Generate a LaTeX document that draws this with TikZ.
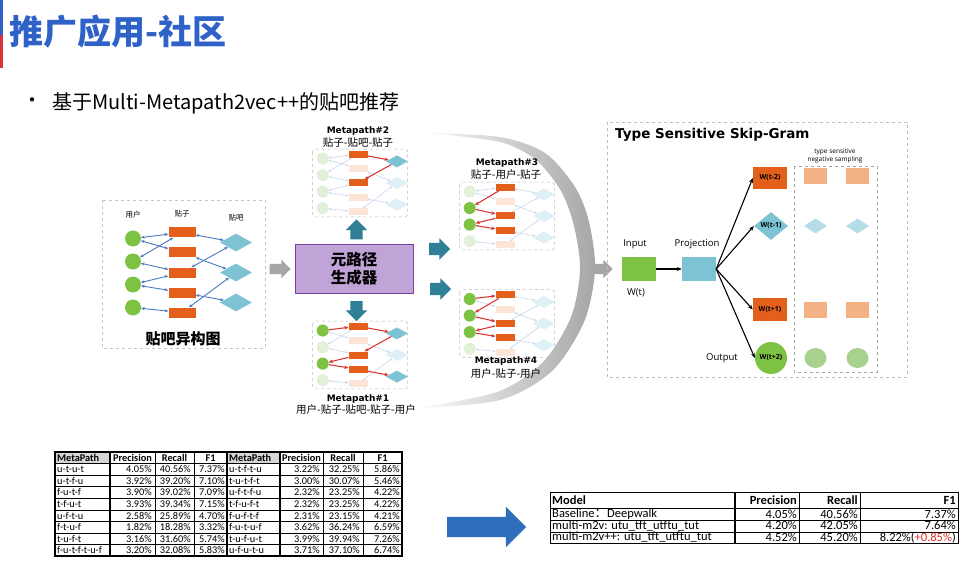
\documentclass[tikz,border=0pt]{standalone}
\usepackage{fontspec}
\setmainfont{Noto Sans CJK SC}
\newfontfamily\verd{DejaVu Sans}
\newfontfamily\calib{Carlito}
\newfontfamily\segoe{Open Sans}
\usetikzlibrary{positioning,arrows.meta,shapes.geometric,shapes.arrows}
\definecolor{titleblue}{HTML}{2F62C8}
\definecolor{barred}{HTML}{D9343A}
\definecolor{usergreen}{HTML}{7DC242}
\definecolor{postorange}{HTML}{E2601C}
\definecolor{barcyan}{HTML}{7DC3D3}
\definecolor{linkblue}{HTML}{4A78C2}
\definecolor{userfade}{HTML}{E2F0D9}
\definecolor{postfade}{HTML}{FCE4D6}
\definecolor{barfade}{HTML}{DDF0F5}
\definecolor{linkfade}{HTML}{CBD7EA}
\definecolor{hlred}{HTML}{E0302A}
\definecolor{genfill}{HTML}{C0A4D8}
\definecolor{genborder}{HTML}{7A3FA5}
\definecolor{tealarr}{HTML}{2F7F96}
\definecolor{blkgray}{HTML}{A6A6A6}
\definecolor{arrowblue}{HTML}{2F6EBA}
\definecolor{negorange}{HTML}{F4B183}
\definecolor{negcyan}{HTML}{B4DDE8}
\definecolor{neggreen}{HTML}{A9D18E}
\definecolor{hdgray}{HTML}{D6D6D6}
\newcommand{\fsz}[1]{\fontsize{#1}{#1}\selectfont}

\tikzset{
  pics/postgraph/.style={code={
    \path[gbox] (-63,-47) rectangle (69,47);
    \foreach \i/\y in {1/-34,2/-11,3/12,4/35} \node[gu] (-c\i) at (-49,\y) {};
    \foreach \i/\y in {1/-40,2/-20,3/0,4/20,5/40} \node[gp] (-r\i) at (0,\y) {};
    \foreach \i/\y in {1/-30,2/0,3/30} \node[gb] (-b\i) at (54,\y) {};
    \foreach \a/\b in {c1/r1,c1/r2,c2/r1,c2/r3,c3/r3,c3/r4,c4/r5,r1/b1,r3/b1,r2/b2,r5/b2,r4/b3}
      \draw[gl] (-\a) -- (-\b);
  }}
}

\begin{document}
\begin{tikzpicture}[x=1pt, y=-1pt,
    gu/.style={circle, fill=usergreen, inner sep=0, minimum size=16pt},
    gp/.style={fill=postorange, inner sep=0, minimum width=27pt, minimum height=10pt},
    gb/.style={diamond, fill=barcyan, inner sep=0, minimum width=32pt, minimum height=18pt},
    gl/.style={{Stealth[length=3.5pt,width=3pt]}-{Stealth[length=3.5pt,width=3pt]}, draw=linkblue, line width=0.9pt},
    gbox/.style={},
    mini/.style={
      gu/.style={circle, fill=userfade, inner sep=0, minimum size=12pt},
      gp/.style={fill=postfade, inner sep=0, minimum width=19pt, minimum height=7pt},
      gb/.style={diamond, fill=barfade, inner sep=0, minimum width=22pt, minimum height=12pt},
      gl/.style={{Stealth[length=2.5pt,width=2.5pt]}-{Stealth[length=2.5pt,width=2.5pt]}, draw=linkfade, line width=0.6pt},
      gbox/.style={draw=gray!55, dashed, rounded corners=3pt, line width=0.6pt}},
    hu/.style={circle, fill=usergreen, inner sep=0, minimum size=12pt},
    hp/.style={fill=postorange, inner sep=0, minimum width=19pt, minimum height=7pt},
    hb/.style={diamond, fill=barcyan, inner sep=0, minimum width=22pt, minimum height=12pt},
    hl/.style={-{Stealth[length=4pt,width=3.5pt]}, draw=hlred, line width=1pt},
    mptitle/.style={font=\verd\bfseries\fsz{9}, inner sep=0},
    mpsub/.style={font=\fsz{10.5}, inner sep=0},
    blk/.style={single arrow, inner xsep=0pt, inner ysep=6pt, single arrow head extend=4.5pt},
    vblk/.style={single arrow, inner xsep=6pt, inner ysep=0pt, single arrow head extend=4.5pt},
    gen/.style={draw=genborder, fill=genfill, line width=1pt, minimum width=118pt, minimum height=48pt,
      align=center, font=\bfseries\fontsize{15.5}{18}\selectfont},
    sglab/.style={font=\segoe\fsz{9.5}, inner sep=0},
    sgtxt/.style={font=\segoe\bfseries\fsz{7}, inner sep=0},
    sgarr/.style={-{Stealth[length=5pt,width=4pt]}, line width=1.1pt},
    negpost/.style={fill=negorange, inner sep=0, minimum width=23pt, minimum height=16pt},
    negbar/.style={diamond, fill=negcyan, inner sep=0, minimum width=23pt, minimum height=15pt},
    neguser/.style={ellipse, fill=neggreen, inner sep=0, minimum width=22pt, minimum height=20pt},
    tline/.style={line width=0.4pt},
    tthick/.style={line width=1.3pt},
    tcell/.style={font=\calib\fsz{10.3}, inner sep=0},
    thead/.style={font=\calib\bfseries\fsz{10.3}, inner sep=0},
    rcell/.style={font=\calib\fsz{12.5}, inner sep=0},
    rhead/.style={font=\calib\bfseries\fsz{12.5}, inner sep=0}]
  \fill[white] (0,0) rectangle (971,561);
  \useasboundingbox (0,0) rectangle (971,561);
  % title
  \fill[titleblue] (0,0) rectangle (3,35);
  \fill[barred] (0,35) rectangle (3,68);
  \node[anchor=west, inner sep=0, text=titleblue, font=\bfseries\fsz{34}] (title) at (9,32) {推广应用-社区};
  \node[font=\fsz{20}, inner sep=0] (dot) at (32,103) {•};
  \node[anchor=west, font=\fsz{20}, inner sep=0] (subtitle) at (52,103) {基于Multi-Metapath2vec++的贴吧推荐};
  % sweeping arc
  \shade[left color=white, right color=gray!70]
    plot[smooth] coordinates {(412,409) (500,400) (552,371) (584,322) (595,270) (589,222) (575,187) (545,153) (500,137) (428,133)}
    -- plot[smooth] coordinates {(428,133) (500,142) (536,160) (561,191) (574,226) (580,270) (571,317) (543,362) (497,392) (412,409)} -- cycle;
  % heterogeneous graph
  \draw[gray!45, dashed, line width=0.6pt] (102,200) rectangle (265,348);
  \pic (big) at (182,272.5) {postgraph};
  \node[font=\fsz{7.5}, above=9pt of big-c1] (ulab) {用户};
  \node[font=\fsz{7.5}, above=7pt of big-r1] (plab) {贴子};
  \node[font=\fsz{7.5}, above=9pt of big-b1] (blab) {贴吧};
  \node[font=\bfseries\fsz{15}, inner sep=0] (glab) at (183,339) {贴吧异构图};
  \node[blk, fill=blkgray, minimum height=21pt, inner ysep=5pt, single arrow head extend=4pt] (a0) at (277.5,269) {};
  % metapath generator
  \node[gen] (gen) at (354,269) {元路径\\生成器};
  \node[vblk, fill=tealarr, minimum height=20pt, shape border rotate=90] (aup) at (356.5,232.5) {};
  \node[vblk, fill=tealarr, minimum height=20pt, shape border rotate=270] (adn) at (356.5,308) {};
  \node[blk, fill=tealarr, minimum height=21pt, shape border rotate=25] (aur) at (436.5,249) {};
  \node[blk, fill=tealarr, minimum height=21pt, shape border rotate=-22] (adr) at (437.5,289) {};
  % metapath samples
  \begin{scope}[mini]
    \pic[scale=0.72] (mp2) at (358,183) {postgraph};
    \pic[scale=0.72] (mp1) at (358,355) {postgraph};
    \pic[scale=0.72] (mp3) at (505,216) {postgraph};
    \pic[scale=0.72] (mp4) at (505,323.5) {postgraph};
  \end{scope}
  \foreach \n/\s in {r1/hp,r3/hp,b1/hb} \node[\s] (h2\n) at (mp2-\n) {};
  \foreach \a/\b in {r1/b1,b1/r3} \draw[hl] (h2\a) -- (h2\b);
  \foreach \n/\s in {c1/hu,c3/hu,r1/hp,r3/hp,r4/hp,b1/hb,b3/hb} \node[\s] (h1\n) at (mp1-\n) {};
  \foreach \a/\b in {c1/r1,r1/b1,b1/r3,r3/c3,c3/r4,r4/b3} \draw[hl] (h1\a) -- (h1\b);
  \foreach \n/\s in {c2/hu,c3/hu,r1/hp,r3/hp,r4/hp} \node[\s] (h3\n) at (mp3-\n) {};
  \foreach \a/\b in {r1/c2,c2/r3,r3/c3,c3/r4} \draw[hl] (h3\a) -- (h3\b);
  \foreach \n/\s in {c1/hu,c2/hu,c3/hu,r1/hp,r3/hp,r4/hp} \node[\s] (h4\n) at (mp4-\n) {};
  \foreach \a/\b in {c1/r1,r1/c2,c2/r3,r3/c3,c3/r4} \draw[hl] (h4\a) -- (h4\b);
  \node[mptitle] (mp2t) at (358,131) {Metapath\#2};
  \node[mpsub] (mp2s) at (358,143) {贴子-贴吧-贴子};
  \node[mptitle] (mp1t) at (358,399) {Metapath\#1};
  \node[mpsub] (mp1s) at (356,410) {用户-贴子-贴吧-贴子-用户};
  \node[mptitle] (mp3t) at (507,163) {Metapath\#3};
  \node[mpsub] (mp3s) at (506,175) {贴子-用户-贴子};
  \node[mptitle] (mp4t) at (506,361) {Metapath\#4};
  \node[mpsub] (mp4s) at (506,374) {用户-贴子-用户};
  \node[blk, fill=blkgray, minimum height=20pt, inner ysep=5pt, single arrow head extend=4pt] (a1) at (600,269) {};
  % skip-gram
  \draw[gray!50, dashed, line width=0.6pt] (607,122) rectangle (907,377);
  \node[anchor=west, font=\verd\bfseries\fsz{13.5}, inner sep=0] (sgt) at (615,135) {Type Sensitive Skip-Gram};
  \node[fill=usergreen, minimum width=34pt, minimum height=24pt] (inp) at (639,269) {};
  \node[sglab] (inlab) at (635,244) {Input};
  \node[sglab] (wt) at (636,293) {W(t)};
  \node[fill=barcyan, minimum width=34pt, minimum height=24pt] (proj) at (699,269) {};
  \node[sglab] (projlab) at (697,244) {Projection};
  \node[fill=postorange, minimum width=34pt, minimum height=22pt, label={[sgtxt]center:W(t-2)}] (wm2) at (770,178) {};
  \node[diamond, fill=barcyan, inner sep=0, minimum width=34pt, minimum height=28pt, label={[sgtxt]center:W(t-1)}] (wm1) at (771,226) {};
  \node[fill=postorange, minimum width=34pt, minimum height=23pt, label={[sgtxt]center:W(t+1)}] (wp1) at (770,309.5) {};
  \node[circle, fill=usergreen, minimum size=32pt, label={[sgtxt]center:W(t+2)}] (wp2) at (771,358) {};
  \node[sglab] (outlab) at (722,358) {Output};
  \draw[sgarr] (inp) -- (proj);
  \foreach \t in {wm2,wm1,wp1,wp2} \draw[sgarr] (proj.east) -- (\t.west);
  \draw[gray!70, dashed, line width=0.9pt] (794,166) rectangle (877,372);
  \node[font=\segoe\fontsize{6.5}{8}\selectfont, align=center, inner sep=0] (neglab) at (835,156) {type sensitive\\negative sampling};
  \foreach \x [count=\k] in {815.5,857.5} {
    \node[negpost] (na\k) at (\x,176) {};
    \node[negbar] (nb\k) at (\x,226) {};
    \node[negpost] (nc\k) at (\x,310) {};
    \node[neguser] (nd\k) at (\x,358) {};
  }
  % left table
  \fill[hdgray] (55,452) rectangle (110,463.56);
  \fill[hdgray] (227,452) rectangle (280,463.56);
  \foreach \k in {1,...,8} \draw[tline] (55,{452+11.56*\k}) -- (402,{452+11.56*\k});
  \foreach \x in {155,194,323,363} \draw[tline] (\x,452) -- (\x,556);
  \foreach \x in {110,227,280} \draw[tthick] (\x,452) -- (\x,556);
  \draw[tthick] (55,452) rectangle (402,556);
  \node[thead, anchor=west] (lha) at (57,457.8) {MetaPath};
  \node[thead, anchor=west] (lhb) at (229,457.8) {MetaPath};
  \foreach \x/\t [count=\k] in {132.5/Precision,174.5/Recall,210.5/F1,301.5/Precision,343/Recall,382.5/F1}
    \node[thead] (lh\k) at (\x,457.8) {\t};
  \foreach \ma/\pa/\ra/\fa/\mb/\pb/\rb/\fb [count=\k] in {
      u-t-u-t/4.05/40.56/7.37/u-t-f-t-u/3.22/32.25/5.86,
      u-t-f-u/3.92/39.20/7.10/t-u-t-f-t/3.00/30.07/5.46,
      f-u-t-f/3.90/39.02/7.09/u-f-t-f-u/2.32/23.25/4.22,
      t-f-u-t/3.93/39.34/7.15/t-f-u-f-t/2.32/23.25/4.22,
      u-f-t-u/2.58/25.89/4.70/f-u-f-t-f/2.31/23.15/4.21,
      f-t-u-f/1.82/18.28/3.32/f-u-t-u-f/3.62/36.24/6.59,
      t-u-f-t/3.16/31.60/5.74/t-u-f-u-t/3.99/39.94/7.26,
      f-u-t-f-t-u-f/3.20/32.08/5.83/u-f-u-t-u/3.71/37.10/6.74} {
    \node[tcell, anchor=west] (lma\k) at (57,{452+11.56*(\k+0.5)}) {\ma};
    \node[tcell, anchor=east] (lpa\k) at (152,{452+11.56*(\k+0.5)}) {\pa\%};
    \node[tcell, anchor=east] (lra\k) at (191,{452+11.56*(\k+0.5)}) {\ra\%};
    \node[tcell, anchor=east] (lfa\k) at (225,{452+11.56*(\k+0.5)}) {\fa\%};
    \node[tcell, anchor=west] (lmb\k) at (229,{452+11.56*(\k+0.5)}) {\mb};
    \node[tcell, anchor=east] (lpb\k) at (320,{452+11.56*(\k+0.5)}) {\pb\%};
    \node[tcell, anchor=east] (lrb\k) at (360,{452+11.56*(\k+0.5)}) {\rb\%};
    \node[tcell, anchor=east] (lfb\k) at (400,{452+11.56*(\k+0.5)}) {\fb\%};
  }
  % arrow to result
  \node[blk, fill=arrowblue, minimum height=79pt, inner ysep=10pt, single arrow head extend=10pt] (a2) at (481.5,527) {};
  % right table
  \foreach \y in {520,532} \draw[tline] (550,\y) -- (958,\y);
  \draw[line width=1pt] (550,508) -- (958,508);
  \foreach \x in {799,860} \draw[tline] (\x,492) -- (\x,543.5);
  \draw[tthick] (735,492) -- (735,543.5);
  \draw[line width=0.9pt] (550,492) rectangle (958,543.5);
  \node[rhead, anchor=west] (rh0) at (552,500.5) {Model};
  \node[rhead, anchor=east] (rh1) at (797,500.5) {Precision};
  \node[rhead, anchor=east] (rh2) at (858,500.5) {Recall};
  \node[rhead, anchor=east] (rh3) at (956,500.5) {F1};
  \foreach \m/\p/\r/\f [count=\k] in {
      {Baseline{\normalfont：}Deepwalk}/4.05/40.56/{7.37\%},
      {multi-m2v: utu\_tft\_utftu\_tut}/4.20/42.05/{7.64\%},
      {multi-m2v++: utu\_tft\_utftu\_tut}/4.52/45.20/{8.22\%(\textcolor{hlred}{+0.85\%})}} {
    \node[rcell, anchor=west] (rm\k) at (552,{502+11.8*\k}) {\m};
    \node[rcell, anchor=east] (rp\k) at (797,{502+11.8*\k}) {\p\%};
    \node[rcell, anchor=east] (rr\k) at (858,{502+11.8*\k}) {\r\%};
    \node[rcell, anchor=east] (rf\k) at (956,{502+11.8*\k}) {\f};
  }
\end{tikzpicture}
\end{document}
